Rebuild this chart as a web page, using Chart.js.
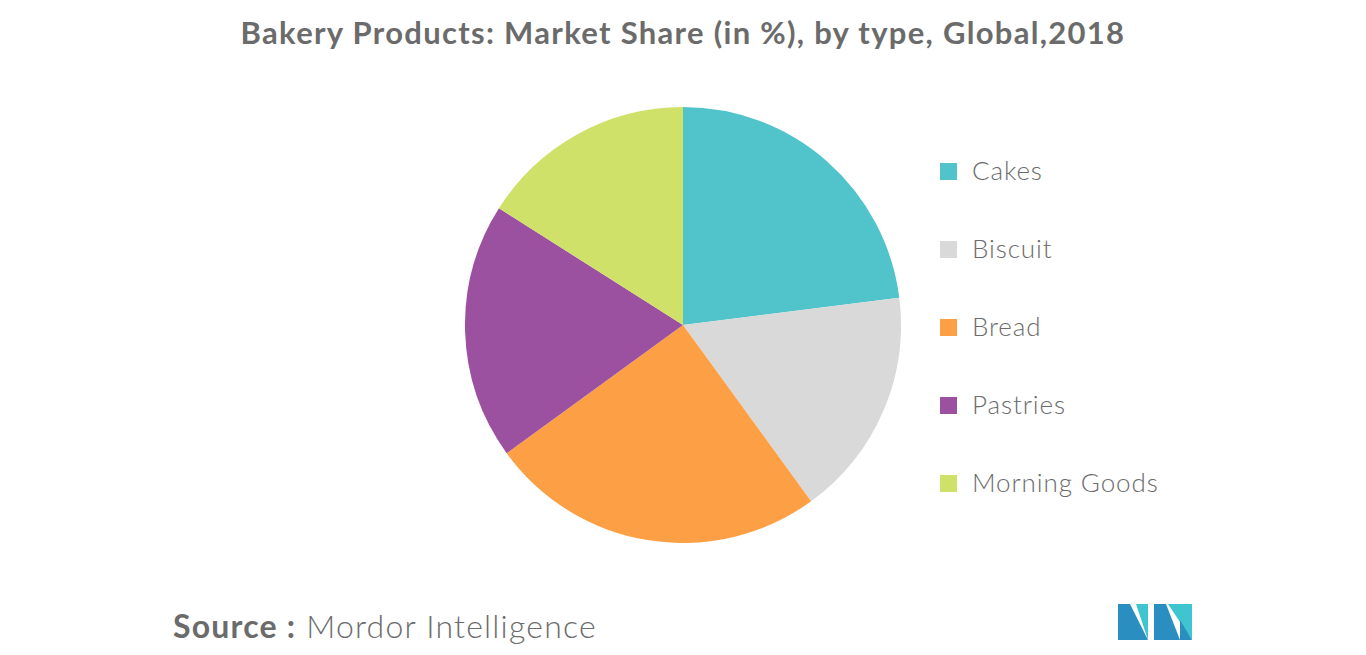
<!DOCTYPE html>
<html>
<head>
<meta charset="utf-8">
<script src="https://cdn.jsdelivr.net/npm/chart.js@4"></script>
<style>
    body { margin: 0; width: 1366px; height: 655px; background: #fff; font-family: Lato, "Open Sans", sans-serif; color: #666; position: relative; overflow: hidden; }
    .title { position: absolute; top: 13px; left: 0; width: 1366px; text-align: center; font-size: 31px; font-weight: bold; color: #6b6b6b; letter-spacing: 1.3px; }
    .pie { position: absolute; left: 465px; top: 107px; width: 436px; height: 436px; }
    .legend { position: absolute; left: 940px; top: 154px; }
    .legend div { height: 78px; font-size: 26px; font-weight: 300; color: #6b6b6b; display: flex; align-items: flex-start; letter-spacing: 0.9px; }
    .legend span { width: 17px; height: 17px; margin-right: 15px; margin-top: 9px; display: inline-block; }
    .source { position: absolute; left: 173px; top: 606px; font-size: 32px; font-weight: 300; color: #6b6b6b; letter-spacing: 1.2px; }
    .source b { font-weight: bold; }
</style>
</head>
<body>
<div class="title">Bakery Products: Market Share (in %), by type, Global,2018</div>
<div class="pie"><canvas id="pieChart"></canvas></div>
<div class="legend" id="legend"></div>
<div class="source"><b>Source :</b> Mordor Intelligence</div>
<svg style="position:absolute;left:1118px;top:604px" width="74" height="36">
    <polygon points="0,36 0,0 12,0 30,36" fill="#2a8fc0"/>
    <polygon points="18,0 30,0 30,36" fill="#3fc5d0"/>
    <polygon points="36,36 36,0 48,0 62,36" fill="#2a8fc0"/>
    <polygon points="50,0 74,0 74,36" fill="#3fc5d0"/>
    <polygon points="62,16 74,36 62,36" fill="#2a8fc0"/>
</svg>
<script>
const categoryNames = ['Cakes', 'Biscuit', 'Bread', 'Pastries', 'Morning Goods'];
const shareValues = [23, 17, 25, 19, 16];
const sliceColors = ['#50c4ca', '#d9d9d9', '#fd9f44', '#9b50a0', '#d0e16a'];

const legend = document.getElementById('legend');
categoryNames.forEach((name, i) => {
    const row = document.createElement('div');
    row.innerHTML = `<span style="background:${sliceColors[i]}"></span>${name}`;
    legend.appendChild(row);
});

new Chart(document.getElementById('pieChart').getContext('2d'), {
    type: 'pie',
    data: {
        labels: categoryNames,
        datasets: [{
            data: shareValues,
            backgroundColor: sliceColors,
            borderWidth: 0
        }]
    },
    options: {
        animation: false,
        responsive: true,
        maintainAspectRatio: false,
        plugins: { legend: { display: false }, tooltip: { enabled: false } }
    }
});
</script>
</body>
</html>
